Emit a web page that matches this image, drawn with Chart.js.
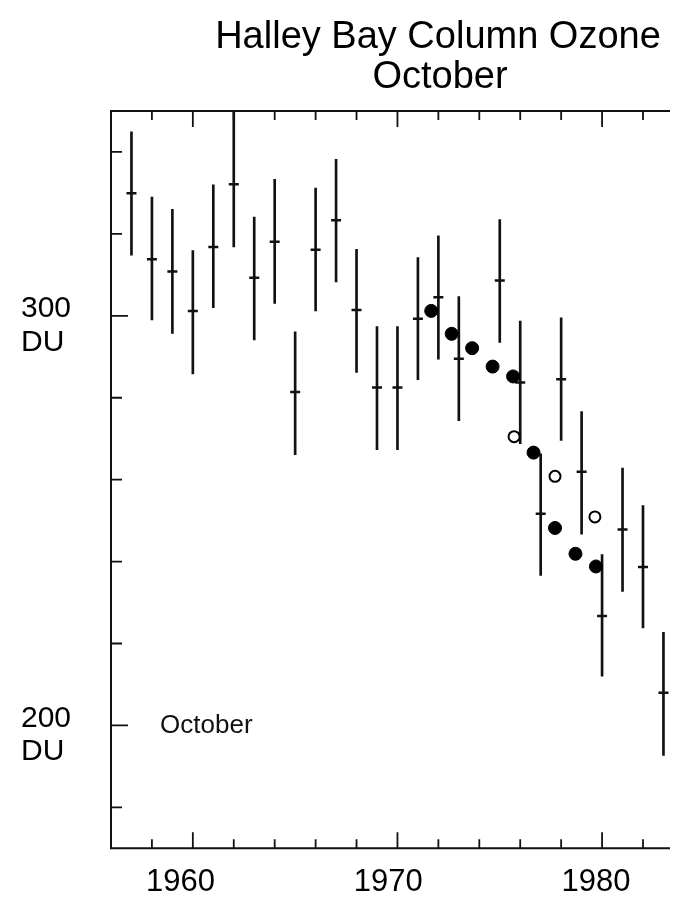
<!DOCTYPE html>
<html>
<head>
<meta charset="utf-8">
<title>Halley Bay Column Ozone</title>
<script src="https://cdn.jsdelivr.net/npm/chart.js@4.4.1/dist/chart.umd.min.js"></script>
<style>
    html, body { margin: 0; padding: 0; background: #fff; }
    #wrap { width: 679px; height: 900px; }
</style>
</head>
<body>
<div id="wrap"><canvas id="ozone" width="679" height="900"></canvas></div>
<script>
    "use strict";

    // October means with error bars (DU)
    var years = [1957, 1958, 1959, 1960, 1961, 1962, 1963, 1964, 1965, 1966, 1967, 1968, 1969,
                 1970, 1971, 1972, 1973, 1975, 1976, 1977, 1978, 1979, 1980, 1981, 1982, 1983];
    var ozoneMean = [329.9, 313.8, 310.8, 301.2, 316.8, 332.1, 309.3, 318.1, 281.4, 316.1, 323.3, 301.4, 282.5,
                     282.5, 299.3, 304.5, 289.5, 308.6, 283.7, 251.7, 284.5, 261.9, 226.7, 247.8, 238.7, 208.0];
    var ozoneLow = [314.8, 299.0, 295.7, 285.8, 302.0, 316.8, 294.1, 303.0, 266.1, 301.2, 308.3, 286.2, 267.3,
                    267.3, 284.4, 289.4, 274.4, 293.5, 268.8, 236.6, 269.6, 246.7, 212.0, 232.7, 223.8, 192.7];
    var ozoneHigh = [344.9, 329.0, 326.0, 315.9, 332.0, 350.0, 324.1, 333.3, 296.1, 331.2, 338.2, 316.2, 297.4,
                     297.4, 314.2, 319.5, 304.7, 323.5, 298.7, 266.3, 299.5, 276.6, 241.7, 262.8, 253.7, 222.7];

    // filled circles
    var filledYears = [1971.65, 1972.65, 1973.65, 1974.65, 1975.65, 1976.65, 1977.7, 1978.7, 1979.7];
    var filledValues = [301.2, 295.6, 292.1, 287.6, 285.2, 266.6, 248.2, 241.9, 238.8];

    // open circles
    var openYears = [1975.7, 1977.7, 1979.65];
    var openValues = [270.5, 260.8, 250.9];

    // axis ticks
    var yLabelTicks = [200, 300];
    var xLabelTicks = [1960, 1970, 1980];
    var yMarks = [180, 200, 220, 240, 260, 280, 300, 320, 340];
    var xMarks = [1958, 1960, 1962, 1964, 1966, 1968, 1970, 1972, 1974, 1976, 1978, 1980, 1982];
    var longYMarks = [200, 300];
    var longXMarks = [1960, 1970, 1980];

    var ink = "#111";

    var barData = years.map(function (yr, i) {
        return {x: yr, y: [ozoneLow[i], ozoneHigh[i]]};
    });
    var meanData = years.map(function (yr, i) {
        return {x: yr, y: ozoneMean[i]};
    });
    var filledData = filledYears.map(function (yr, i) {
        return {x: yr, y: filledValues[i]};
    });
    var openData = openYears.map(function (yr, i) {
        return {x: yr, y: openValues[i]};
    });

    // Frame, inward ticks, titles
    var framePlugin = {
        id: "frame",
        beforeDatasetsDraw: function (chart) {
            var ctx = chart.ctx;
            var a = chart.chartArea;
            var xs = chart.scales.x;
            var ys = chart.scales.y;
            ctx.save();
            ctx.strokeStyle = ink;
            ctx.lineWidth = 2;
            ctx.beginPath();
            ctx.moveTo(a.right, a.top);
            ctx.lineTo(a.left, a.top);
            ctx.lineTo(a.left, a.bottom);
            ctx.lineTo(a.right, a.bottom);
            ctx.stroke();

            ctx.lineWidth = 1.8;
            ctx.beginPath();
            xMarks.forEach(function (v) {
                var px = xs.getPixelForValue(v);
                var len = longXMarks.indexOf(v) >= 0 ? 16 : 9;
                ctx.moveTo(px, a.bottom);
                ctx.lineTo(px, a.bottom - len);
                ctx.moveTo(px, a.top);
                ctx.lineTo(px, a.top + len);
            });
            yMarks.forEach(function (v) {
                var py = ys.getPixelForValue(v);
                var len = longYMarks.indexOf(v) >= 0 ? 17 : 11;
                ctx.moveTo(a.left, py);
                ctx.lineTo(a.left + len, py);
            });
            ctx.stroke();
            ctx.restore();
        },
        afterDraw: function (chart) {
            var ctx = chart.ctx;
            ctx.save();
            ctx.fillStyle = "#000";
            ctx.textAlign = "center";
            ctx.textBaseline = "alphabetic";
            ctx.font = "38px 'Liberation Sans', Arial, sans-serif";
            ctx.fillText("Halley Bay Column Ozone", 438, 48);
            ctx.fillText("October", 440, 88);

            // label printed inside the original figure
            ctx.fillStyle = "#111";
            ctx.textAlign = "left";
            ctx.textBaseline = "middle";
            ctx.font = "26px 'Liberation Sans', Arial, sans-serif";
            ctx.fillText("October", chart.scales.x.getPixelForValue(1958.4), chart.scales.y.getPixelForValue(200));
            ctx.restore();
        }
    };

    Chart.defaults.font.family = "'Liberation Sans', Arial, sans-serif";
    Chart.defaults.color = "#000";

    var ctx1 = document.getElementById("ozone").getContext("2d");
    var myChart1 = new Chart(ctx1, {
        type: "scatter",
        data: {
            datasets: [{
                    type: "bar",
                    label: "Range",
                    data: barData,
                    backgroundColor: ink,
                    borderWidth: 0,
                    barThickness: 2,
                    grouped: false,
                    order: 3
                },
                {
                    label: "Mean",
                    data: meanData,
                    pointStyle: "line",
                    radius: 5,
                    borderWidth: 2.5,
                    borderColor: ink,
                    backgroundColor: ink,
                    order: 2
                },
                {
                    label: "Filled",
                    data: filledData,
                    pointStyle: "circle",
                    radius: 6.5,
                    borderWidth: 1,
                    borderColor: "#000",
                    backgroundColor: "#000",
                    order: 1
                },
                {
                    label: "Open",
                    data: openData,
                    pointStyle: "circle",
                    radius: 5.5,
                    borderWidth: 2,
                    borderColor: "#000",
                    backgroundColor: "#fff",
                    order: 1
                }
            ]
        },
        options: {
            responsive: false,
            animation: false,
            devicePixelRatio: 1,
            layout: {
                padding: {left: 21, right: 9, top: 111, bottom: 0}
            },
            plugins: {
                legend: {display: false},
                tooltip: {enabled: false}
            },
            scales: {
                x: {
                    type: "linear",
                    display: false,
                    offset: false,
                    min: 1956,
                    max: 1983.32
                },
                x2: {
                    type: "linear",
                    position: "bottom",
                    offset: false,
                    min: 1956.66,
                    max: 1983.56,
                    grid: {display: false, drawTicks: false},
                    border: {display: false},
                    afterBuildTicks: function (scale) {
                        scale.ticks = xLabelTicks.map(function (v) { return {value: v}; });
                    },
                    afterFit: function (scale) {
                        scale.height = 51.7;
                    },
                    ticks: {
                        font: {size: 31},
                        padding: 16,
                        maxRotation: 0,
                        callback: function (v) { return String(v); }
                    }
                },
                y: {
                    type: "linear",
                    position: "left",
                    min: 170,
                    max: 350,
                    grid: {display: false, drawTicks: false},
                    border: {display: false},
                    afterBuildTicks: function (scale) {
                        scale.ticks = yLabelTicks.map(function (v) { return {value: v}; });
                    },
                    afterFit: function (scale) {
                        scale.width = 90;
                    },
                    ticks: {
                        font: {size: 30, lineHeight: 1.12},
                        crossAlign: "far",
                        labelOffset: 10,
                        callback: function (v) { return [String(v), "DU"]; }
                    }
                }
            }
        },
        plugins: [framePlugin]
    });
</script>
</body>
</html>
